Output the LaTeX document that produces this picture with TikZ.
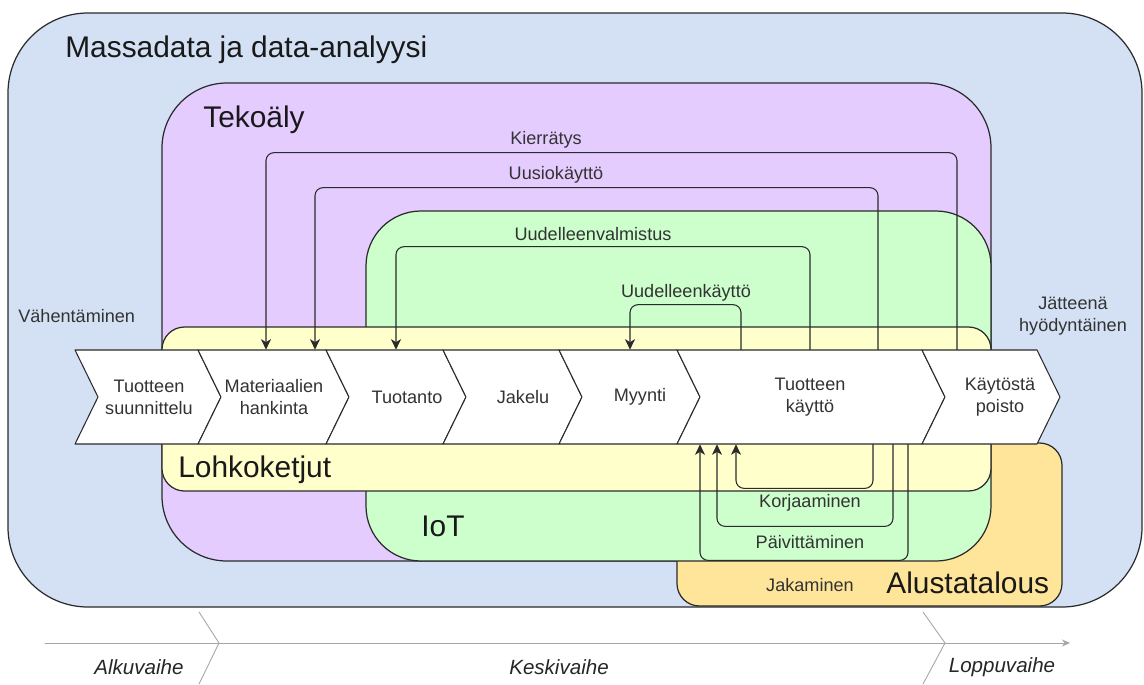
\documentclass[tikz,border=0pt]{standalone}
\usepackage{fontspec}
\setmainfont{Liberation Sans}
\usetikzlibrary{arrows.meta,calc}

\definecolor{massa}{HTML}{D4E1F5}
\definecolor{teko}{HTML}{E5CCFF}
\definecolor{iot}{HTML}{CCFFCC}
\definecolor{lohko}{HTML}{FFFFCC}
\definecolor{alusta}{HTML}{FFE599}
\definecolor{viiva}{HTML}{2B2B2B}

\tikzset{
	alue/.style={draw=viiva, line width=0.7pt},
	otsikko/.style={font=\fontsize{17}{20}\selectfont, text=black!90, anchor=base west, inner sep=0pt},
	vaihe/.style={draw=viiva, fill=white, line width=0.6pt},
	vaiheteksti/.style={font=\fontsize{10.3}{12.5}\selectfont, text=black!80, align=center, minimum height=1.88cm, inner sep=0pt},
	silmukka/.style={draw=viiva, line width=0.6pt, rounded corners=1.6mm, -{Stealth[length=2.1mm,width=2mm,inset=0.6mm]}},
	nimi/.style={font=\fontsize{10.3}{12.5}\selectfont, text=black!80, inner sep=0pt, align=center},
	aika/.style={draw=black!35, line width=0.5pt},
	vaiheaika/.style={font=\fontsize{11.7}{13}\selectfont\itshape, text=black!85, inner sep=0pt},
}

% one step of the chain: left, right, text x, name, text
\newcommand{\vaihe}[5]{%
	\draw[vaihe] (#1,350) -- (#2,350) -- ({#2+23},397) -- (#2,444) -- (#1,444) -- ({#1+23},397) -- cycle;
	\node[vaiheteksti] (#4) at (#3,397) {#5};}

\begin{document}
\begin{tikzpicture}[x=0.02cm, y=-0.02cm, line join=round, line cap=round]
	
	\useasboundingbox (0,0) rectangle (1144,684);
	
	% nested areas
	\draw[alue, fill=massa, rounded corners=1.6cm] (8,13) rectangle (1142,607);
	\draw[alue, fill=teko, rounded corners=1.3cm] (162,83) rectangle (991,561);
	\draw[alue, fill=alusta, rounded corners=0.45cm] (677,443) rectangle (1062,606);
	\draw[alue, fill=iot, rounded corners=1.1cm] (366,211) rectangle (991,561);
	\draw[alue, fill=lohko, rounded corners=0.45cm] (162,327) rectangle (991,491);
	
	\node[otsikko] (massadata) at (65,57) {Massadata ja data-analyysi};
	\node[otsikko] (tekoaly) at (203,127) {Tekoäly};
	\node[otsikko] (lohkoketjut) at (178,477) {Lohkoketjut};
	\node[otsikko] (iotnimi) at (421,536) {IoT};
	\node[otsikko] (alustatalous) at (886,593) {Alustatalous};
	
	\node[nimi, anchor=base west] (vahent) at (18,322) {Vähentäminen};
	\node[nimi] (jatteena) at (1073,316) {Jätteenä\\hyödyntäinen};
	
	% the chain
	\vaihe{75}{198}{149}{suunnittelu}{Tuotteen\\suunnittelu}
	\vaihe{198}{326}{274}{hankinta}{Materiaalien\\hankinta}
	\vaihe{326}{443}{407}{tuotanto}{Tuotanto}
	\vaihe{443}{559}{523}{jakelu}{Jakelu}
	\vaihe{559}{677}{640}{myynti}{Myynti}
	\vaihe{677}{922}{810}{kaytto}{Tuotteen\\käyttö}
	\vaihe{922}{1037}{1000}{poisto}{Käytöstä\\poisto}
	
	% loops above
	\draw[silmukka] ($(poisto.north)+(-43,0)$) -- ++(0,-197) -| ($(hankinta.north)+(-8,0)$);
	\draw[silmukka] ($(kaytto.north)+(68,0)$) -- ++(0,-162) -| ($(hankinta.north)+(41,0)$);
	\draw[silmukka] (kaytto.north) -- ++(0,-103) -| ($(tuotanto.north)+(-11,0)$);
	\draw[silmukka] ($(kaytto.north)+(-69,0)$) -- ++(0,-45) -| ($(myynti.north)+(-10,0)$);
	
	\node[nimi] (kierratys) at (546,140) {Kierrätys};
	\node[nimi] (uusiokaytto) at (556,175) {Uusiokäyttö};
	\node[nimi] (valmistus) at (593,234) {Uudelleenvalmistus};
	\node[nimi] (uudkaytto) at (686,293) {Uudelleenkäyttö};
	
	% loops below
	\draw[silmukka] ($(kaytto.south)+(63,0)$) -- ++(0,44) -| ($(kaytto.south)+(-74,0)$);
	\draw[silmukka] ($(kaytto.south)+(83,0)$) -- ++(0,82) -| ($(kaytto.south)+(-93,0)$);
	\draw[silmukka] ($(kaytto.south)+(98,0)$) -- ++(0,116) -| ($(kaytto.south)+(-110,0)$);
	
	\node[nimi] (korjaaminen) at (810,503) {Korjaaminen};
	\node[nimi] (paivittaminen) at (810,542) {Päivittäminen};
	\node[nimi] (jakaminen) at (810,585) {Jakaminen};
	
	% phases
	\coordinate (alku) at (45,643);
	\coordinate (loppu) at (1070,643);
	\draw[aika, -{Stealth[length=1.6mm,width=1.4mm]}] (alku) -- (loppu);
	\draw[aika] (199,612) -- (219,643) -- (199,684);
	\draw[aika] (923,612) -- (945,643) -- (923,684);
	
	\node[vaiheaika] (alkuvaihe) at (139,667) {Alkuvaihe};
	\node[vaiheaika] (keskivaihe) at (559,667) {Keskivaihe};
	\node[vaiheaika] (loppuvaihe) at (1002,667) {Loppuvaihe};
	
\end{tikzpicture}
\end{document}
